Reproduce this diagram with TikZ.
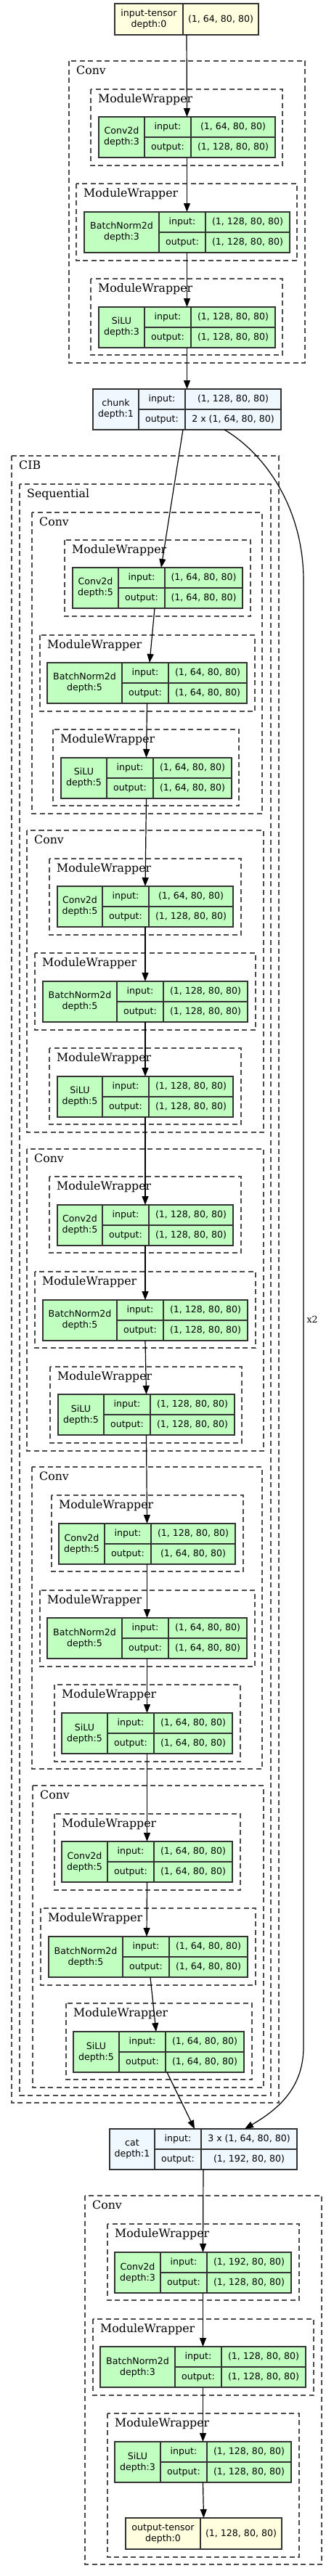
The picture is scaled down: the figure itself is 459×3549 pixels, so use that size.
\documentclass[tikz,border=0pt]{standalone}
\usepackage{fontspec}
\usepackage{tikz}
\usetikzlibrary{arrows.meta}
\newfontfamily\nodefont{DejaVu Sans}
\newfontfamily\groupfont{DejaVu Serif}
\definecolor{modgreen}{RGB}{193,255,193}
\definecolor{funcblue}{RGB}{240,248,255}
\definecolor{tensyellow}{RGB}{255,255,224}
\tikzset{tablecell/.style={draw=black!80, line width=1.2pt, inner sep=0pt, outer sep=0pt, minimum height=28pt, align=center, font=\nodefont\fontsize{12.6}{15}\selectfont},
  groupbox/.style={draw=black!70, line width=1.1pt, dash pattern=on 7pt off 4.5pt},
  grouplabel/.style={anchor=base west, inner sep=0pt, font=\groupfont\fontsize{15.8}{18}\selectfont},
  flow/.style={-{Triangle[length=12pt, width=9pt]}, line width=1.2pt},}
\newcommand{\modtab}[8][modgreen]{%
  \node[tablecell, fill=#1, minimum width=#4, minimum height=56pt, anchor=north west] (#2) at #3 {#6};
  \node[tablecell, fill=#1, minimum width=64pt, anchor=north west] (#2-il) at (#2.north east) {input:};
  \node[tablecell, fill=#1, minimum width=#5, anchor=north west] (#2-iv) at (#2-il.north east) {#7};
  \node[tablecell, fill=#1, minimum width=64pt, anchor=north west] (#2-ol) at (#2-il.south west) {output:};
  \node[tablecell, fill=#1, minimum width=#5, anchor=north west] (#2-ov) at (#2-ol.north east) {#8};
  \path (#2.north west) -- (#2-iv.north east) coordinate[midway] (#2-top);
  \path (#2.south west) -- (#2-ov.south east) coordinate[midway] (#2-bot);}
\newcommand{\tensnode}[6]{%
  \node[tablecell, fill=tensyellow, minimum width=#3, minimum height=43pt, anchor=north west] (#1) at #2 {#5};
  \node[tablecell, fill=tensyellow, minimum width=#4, minimum height=43pt, anchor=north west] (#1-v) at (#1.north east) {#6};
  \path (#1.north west) -- (#1-v.north east) coordinate[midway] (#1-top);
  \path (#1.south west) -- (#1-v.south east) coordinate[midway] (#1-bot);}
\newcommand{\modgroup}[5]{%
  \draw[groupbox] (#1,#2) rectangle (#3,#4);
  \node[grouplabel] at (#1+10,#2+18) {#5};}

\begin{document}
\begin{tikzpicture}[x=1pt, y=-1pt]
\useasboundingbox (0,0) rectangle (459,3549);

\modgroup{95}{84}{420}{500}{Conv}
\modgroup{125}{123}{389}{228}{ModuleWrapper}
\modgroup{105}{253}{409}{359}{ModuleWrapper}
\modgroup{125}{384}{389}{489}{ModuleWrapper}
\modgroup{16}{628}{384}{2897}{CIB}
\modgroup{27}{667}{373}{2887}{Sequential}
\modgroup{44}{706}{361}{1121}{Conv}
\modgroup{89}{744}{345}{849}{ModuleWrapper}
\modgroup{55}{875}{351}{980}{ModuleWrapper}
\modgroup{73}{1005}{329}{1110}{ModuleWrapper}
\modgroup{37}{1144}{363}{1560}{Conv}
\modgroup{68}{1183}{332}{1288}{ModuleWrapper}
\modgroup{48}{1313}{352}{1419}{ModuleWrapper}
\modgroup{68}{1444}{332}{1549}{ModuleWrapper}
\modgroup{37}{1583}{363}{1999}{Conv}
\modgroup{68}{1621}{332}{1726}{ModuleWrapper}
\modgroup{48}{1752}{352}{1857}{ModuleWrapper}
\modgroup{69}{1883}{333}{1988}{ModuleWrapper}
\modgroup{44}{2021}{361}{2437}{Conv}
\modgroup{71}{2060}{335}{2165}{ModuleWrapper}
\modgroup{55}{2191}{351}{2296}{ModuleWrapper}
\modgroup{75}{2321}{331}{2427}{ModuleWrapper}
\modgroup{45}{2460}{363}{2876}{Conv}
\modgroup{75}{2499}{331}{2604}{ModuleWrapper}
\modgroup{56}{2629}{352}{2735}{ModuleWrapper}
\modgroup{91}{2760}{347}{2865}{ModuleWrapper}
\modgroup{117}{3025}{443}{3533}{Conv}
\modgroup{148}{3064}{412}{3169}{ModuleWrapper}
\modgroup{128}{3195}{432}{3300}{ModuleWrapper}
\modgroup{148}{3325}{412}{3523}{ModuleWrapper}

\tensnode{intensor}{(158,5)}{94pt}{104pt}{input-tensor\\depth:0}{(1, 64, 80, 80)}
\modtab{convi}{(136,161)}{63pt}{116pt}{Conv2d\\depth:3}{(1, 64, 80, 80)}{(1, 128, 80, 80)}
\modtab{bni}{(116,292)}{103pt}{116pt}{BatchNorm2d\\depth:3}{(1, 128, 80, 80)}{(1, 128, 80, 80)}
\modtab{silui}{(136,423)}{63pt}{116pt}{SiLU\\depth:3}{(1, 128, 80, 80)}{(1, 128, 80, 80)}
\modtab[funcblue]{chunk}{(128,536)}{63pt}{132pt}{chunk\\depth:1}{(1, 128, 80, 80)}{2 x (1, 64, 80, 80)}
\modtab{conva}{(100,782)}{63pt}{107pt}{Conv2d\\depth:5}{(1, 64, 80, 80)}{(1, 64, 80, 80)}
\modtab{bna}{(65,913)}{103pt}{108pt}{BatchNorm2d\\depth:5}{(1, 64, 80, 80)}{(1, 64, 80, 80)}
\modtab{silua}{(84,1044)}{63pt}{108pt}{SiLU\\depth:5}{(1, 64, 80, 80)}{(1, 64, 80, 80)}
\modtab{convb}{(79,1221)}{62pt}{116pt}{Conv2d\\depth:5}{(1, 64, 80, 80)}{(1, 128, 80, 80)}
\modtab{bnb}{(59,1352)}{102pt}{116pt}{BatchNorm2d\\depth:5}{(1, 128, 80, 80)}{(1, 128, 80, 80)}
\modtab{silub}{(79,1483)}{62pt}{116pt}{SiLU\\depth:5}{(1, 128, 80, 80)}{(1, 128, 80, 80)}
\modtab{convc}{(79,1660)}{62pt}{116pt}{Conv2d\\depth:5}{(1, 128, 80, 80)}{(1, 128, 80, 80)}
\modtab{bnc}{(59,1791)}{102pt}{116pt}{BatchNorm2d\\depth:5}{(1, 128, 80, 80)}{(1, 128, 80, 80)}
\modtab{siluc}{(80,1921)}{63pt}{116pt}{SiLU\\depth:5}{(1, 128, 80, 80)}{(1, 128, 80, 80)}
\modtab{convd}{(81,2099)}{63pt}{116pt}{Conv2d\\depth:5}{(1, 128, 80, 80)}{(1, 64, 80, 80)}
\modtab{bnd}{(65,2229)}{103pt}{108pt}{BatchNorm2d\\depth:5}{(1, 64, 80, 80)}{(1, 64, 80, 80)}
\modtab{silud}{(85,2360)}{63pt}{108pt}{SiLU\\depth:5}{(1, 64, 80, 80)}{(1, 64, 80, 80)}
\modtab{conve}{(85,2537)}{63pt}{108pt}{Conv2d\\depth:5}{(1, 64, 80, 80)}{(1, 64, 80, 80)}
\modtab{bne}{(67,2668)}{102pt}{108pt}{BatchNorm2d\\depth:5}{(1, 64, 80, 80)}{(1, 64, 80, 80)}
\modtab{silue}{(101,2799)}{63pt}{108pt}{SiLU\\depth:5}{(1, 64, 80, 80)}{(1, 64, 80, 80)}
\modtab[funcblue]{cat}{(151,2933)}{62pt}{132pt}{cat\\depth:1}{3 x (1, 64, 80, 80)}{(1, 192, 80, 80)}
\modtab{convo}{(158,3103)}{63pt}{116pt}{Conv2d\\depth:3}{(1, 192, 80, 80)}{(1, 128, 80, 80)}
\modtab{bno}{(138,3233)}{103pt}{116pt}{BatchNorm2d\\depth:3}{(1, 128, 80, 80)}{(1, 128, 80, 80)}
\modtab{siluo}{(158,3364)}{63pt}{116pt}{SiLU\\depth:3}{(1, 128, 80, 80)}{(1, 128, 80, 80)}
\tensnode{outtensor}{(173,3469)}{103pt}{112pt}{output-tensor\\depth:0}{(1, 128, 80, 80)}

\draw[flow] (intensor-bot) -- (convi-top);
\draw[flow] (convi-bot) -- (bni-top);
\draw[flow] (bni-bot) -- (silui-top);
\draw[flow] (silui-bot) -- (chunk-top);
\draw[flow] ([xshift=-5.5pt]chunk-bot) -- ([xshift=5pt]conva-top);
\draw[flow] ([xshift=-4pt]conva-bot) -- ([xshift=3.5pt]bna-top);
\draw[flow] (bna-bot) -- (silua-top);
\draw[flow] (silua-bot) -- (convb-top);
\draw[flow] (convb-bot) -- (bnb-top);
\draw[flow] (bnb-bot) -- (silub-top);
\draw[flow] (silub-bot) -- (convc-top);
\draw[flow] (convc-bot) -- (bnc-top);
\draw[flow] (bnc-bot) -- (siluc-top);
\draw[flow] (siluc-bot) -- (convd-top);
\draw[flow] (convd-bot) -- (bnd-top);
\draw[flow] (bnd-bot) -- (silud-top);
\draw[flow] (silud-bot) -- (conve-top);
\draw[flow] (conve-bot) -- ([xshift=-2pt]bne-top);
\draw[flow] ([xshift=3pt]bne-bot) -- ([xshift=-3.5pt]silue-top);
\draw[flow] ([xshift=11.5pt]silue-bot) -- ([xshift=-12pt]cat-top);
\draw[flow] ([xshift=51.5pt]chunk-bot) .. controls (365,625) and (418,700) .. (418,800)
  -- node[pos=0.504, anchor=west, inner sep=0pt, xshift=4pt, font=\groupfont\fontsize{12.6}{15}\selectfont] {x2} (418,2820)
  .. controls (418,2875) and (385,2905) .. ([xshift=57pt]cat-top);
\draw[flow] (cat-bot) -- (convo-top);
\draw[flow] (convo-bot) -- (bno-top);
\draw[flow] (bno-bot) -- (siluo-top);
\draw[flow] (siluo-bot) -- (outtensor-top);
\end{tikzpicture}
\end{document}
